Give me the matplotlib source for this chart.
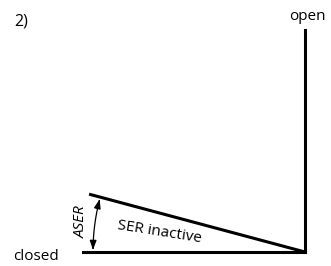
import numpy as np
import matplotlib
matplotlib.use("Agg")
import matplotlib.pyplot as plt
from matplotlib.patches import FancyArrowPatch
from matplotlib.path import Path

# Data
state_labels = ["closed", "open"]
state_angles = [0, 90]          # degrees
ser_angle = 15                  # degrees, SER inactive position
ser_label = "SER inactive"
angle_label = "ASER"
panel_label = "2)"

plt.rcParams['font.family'] = ['Open Sans', 'DejaVu Sans']

W, H = 331, 266
fig = plt.figure(figsize=(W / 100, H / 100), dpi=100)
ax = fig.add_axes([0, 0, 1, 1])
ax.set_xlim(0, W)
ax.set_ylim(H, 0)
ax.axis('off')

px, py = 305, 252
L = 222

def endpoint(a, r=L):
    t = np.deg2rad(a)
    return px - r * np.cos(t), py - r * np.sin(t)

for a in state_angles + [ser_angle]:
    x, y = endpoint(a)
    ax.plot([px, x], [py, y], color='black', lw=2.2, solid_capstyle='projecting')

# arc arrow
r = 212
ts = np.linspace(0.6, ser_angle - 0.6, 40)
pts = np.array([endpoint(t, r) for t in ts])
arr = FancyArrowPatch(path=Path(pts), arrowstyle='<|-|>,head_length=5.5,head_width=2.0',
                      color='black', lw=0.9)
ax.add_patch(arr)

fs = 11
ax.text(36, 256, state_labels[0], ha='center', va='center', fontsize=fs)
ax.text(307, 17, state_labels[1], ha='center', va='center', fontsize=fs)
ax.text(81, 222, angle_label, ha='center', va='center', fontsize=fs, rotation=90, style='italic')
ax.text(160, 232, ser_label, ha='center', va='center', fontsize=fs, rotation=-9, rotation_mode='anchor')
ax.text(21, 22, panel_label, ha='center', va='center', fontsize=fs + 0.5)

fig.savefig('out.png', dpi=100)
